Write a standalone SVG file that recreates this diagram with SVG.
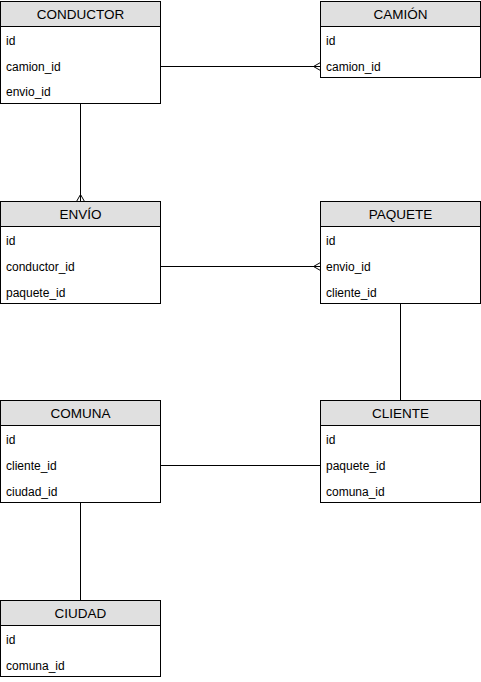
<svg xmlns="http://www.w3.org/2000/svg" width="481" height="682" viewBox="0 0 481 682">
<style>
.box{fill:#ffffff;stroke:#000000;stroke-width:1}
.hd{fill:#e0e0e0;stroke:#000000;stroke-width:1}
.ht{font-family:"Liberation Sans",Arial,sans-serif;font-size:13.5px;fill:#000;text-anchor:middle}
.rt{font-family:"Liberation Sans",Arial,sans-serif;font-size:12px;fill:#000}
.cn{fill:none;stroke:#000;stroke-width:1}
</style>
<rect width="481" height="682" fill="#ffffff"/>
<g id="conductor">
<rect class="box" x="0.5" y="1.5" width="160" height="102"/>
<rect class="hd" x="0.5" y="1.5" width="160" height="25"/>
<text class="ht" x="80.5" y="19">CONDUCTOR</text>
<text class="rt" x="6" y="45">id</text>
<text class="rt" x="6" y="71">camion_id</text>
<text class="rt" x="6" y="96">envio_id</text>
</g>
<g id="camion">
<rect class="box" x="320.5" y="1.5" width="160" height="76"/>
<rect class="hd" x="320.5" y="1.5" width="160" height="25"/>
<text class="ht" x="400.5" y="19">CAMIÓN</text>
<text class="rt" x="326" y="45">id</text>
<text class="rt" x="326" y="71">camion_id</text>
</g>
<g id="envio">
<rect class="box" x="0.5" y="201.5" width="160" height="102"/>
<rect class="hd" x="0.5" y="201.5" width="160" height="25"/>
<text class="ht" x="80.5" y="219">ENVÍO</text>
<text class="rt" x="6" y="245">id</text>
<text class="rt" x="6" y="271">conductor_id</text>
<text class="rt" x="6" y="297">paquete_id</text>
</g>
<g id="paquete">
<rect class="box" x="320.5" y="201.5" width="160" height="102"/>
<rect class="hd" x="320.5" y="201.5" width="160" height="25"/>
<text class="ht" x="400.5" y="219">PAQUETE</text>
<text class="rt" x="326" y="245">id</text>
<text class="rt" x="326" y="271">envio_id</text>
<text class="rt" x="326" y="297">cliente_id</text>
</g>
<g id="comuna">
<rect class="box" x="0.5" y="400.5" width="160" height="102"/>
<rect class="hd" x="0.5" y="400.5" width="160" height="25"/>
<text class="ht" x="80.5" y="418">COMUNA</text>
<text class="rt" x="6" y="444">id</text>
<text class="rt" x="6" y="470">cliente_id</text>
<text class="rt" x="6" y="496">ciudad_id</text>
</g>
<g id="cliente">
<rect class="box" x="320.5" y="400.5" width="160" height="102"/>
<rect class="hd" x="320.5" y="400.5" width="160" height="25"/>
<text class="ht" x="400.5" y="418">CLIENTE</text>
<text class="rt" x="326" y="444">id</text>
<text class="rt" x="326" y="470">paquete_id</text>
<text class="rt" x="326" y="496">comuna_id</text>
</g>
<g id="ciudad">
<rect class="box" x="0.5" y="600.5" width="160" height="76"/>
<rect class="hd" x="0.5" y="600.5" width="160" height="25"/>
<text class="ht" x="80.5" y="618">CIUDAD</text>
<text class="rt" x="6" y="644">id</text>
<text class="rt" x="6" y="670">comuna_id</text>
</g>
<g id="connectors">
<path class="cn" d="M160.5,66.5 H320.5"/>
<path class="cn" d="M320.5,62.5 L313.5,66.5 L320.5,70.5"/>
<path class="cn" d="M80.5,103.5 V201.5"/>
<path class="cn" d="M76.5,201.5 L80.5,194.5 L84.5,201.5"/>
<path class="cn" d="M160.5,266.5 H320.5"/>
<path class="cn" d="M320.5,262.5 L313.5,266.5 L320.5,270.5"/>
<path class="cn" d="M400.5,303.5 V400.5"/>
<path class="cn" d="M160.5,465.5 H320.5"/>
<path class="cn" d="M80.5,502.5 V600.5"/>
</g>
</svg>
